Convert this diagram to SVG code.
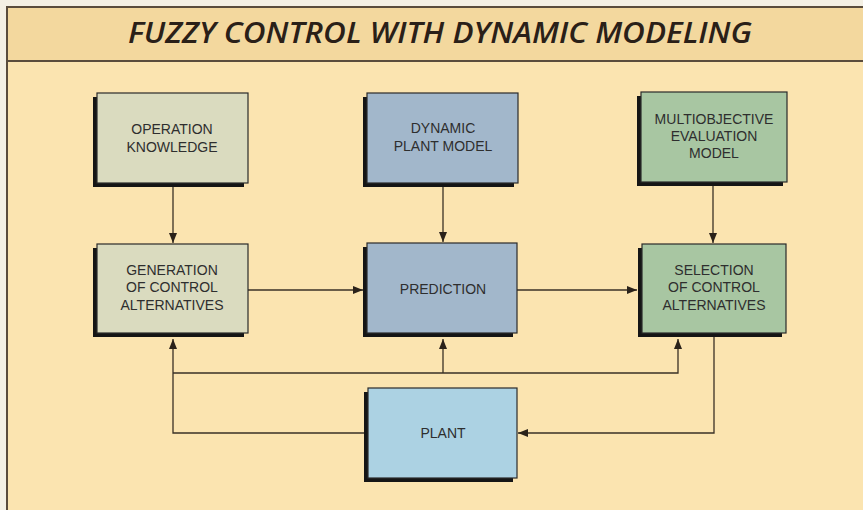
<svg xmlns="http://www.w3.org/2000/svg" width="863" height="510" viewBox="0 0 863 510">
<defs>
<style>
.box{stroke:#2a2a2a;stroke-width:1.2}
.sh{fill:#151515}
.t{font-family:"Liberation Sans",Arial,sans-serif;font-size:14px;fill:#2e2e2e;text-anchor:middle}
.c{fill:none;stroke:#3a3026;stroke-width:1.3}
.frame{stroke:#5a4c3c;stroke-width:2;fill:none}
</style>
<marker id="ah" viewBox="0 0 10 8" refX="10" refY="4" markerWidth="10" markerHeight="8" markerUnits="userSpaceOnUse" orient="auto">
<path d="M0,0 L10,4 L0,8 z" fill="#2a221a"/>
</marker>
</defs>
<rect x="0" y="0" width="863" height="510" fill="#f4f0e4"/>
<rect x="7" y="7" width="856" height="503" fill="#fbe4b0"/>
<rect x="7" y="7" width="856" height="54" fill="#f3d89e"/>
<path class="frame" d="M863,7 H7 V510 M7,61 H863"/>
<text x="440" y="43" font-family="'Open Sans','Liberation Sans',sans-serif" font-size="28" font-weight="600" font-style="italic" fill="#2a2018" text-anchor="middle" textLength="624" lengthAdjust="spacingAndGlyphs">FUZZY CONTROL WITH DYNAMIC MODELING</text>

<g id="connectors">
<path class="c" d="M173,184 V243" marker-end="url(#ah)"/>
<path class="c" d="M443,184 V242" marker-end="url(#ah)"/>
<path class="c" d="M713,183 V243" marker-end="url(#ah)"/>
<path class="c" d="M248,290 H363" marker-end="url(#ah)"/>
<path class="c" d="M517,290 H637" marker-end="url(#ah)"/>
<path class="c" d="M364,433 H173 V339" marker-end="url(#ah)"/>
<path class="c" d="M173,373 H678 V339" marker-end="url(#ah)"/>
<path class="c" d="M443,373 V339" marker-end="url(#ah)"/>
<path class="c" d="M714,334 V433 H518" marker-end="url(#ah)"/>
</g>

<g id="operation-knowledge">
<rect class="sh" x="93" y="97" width="151" height="90"/>
<rect class="box" x="97" y="93" width="151" height="90" fill="#dadbbf"/>
<text class="t" x="172" y="134">OPERATION</text>
<text class="t" x="172" y="152">KNOWLEDGE</text>
</g>
<g id="dynamic-plant-model">
<rect class="sh" x="363" y="97" width="151" height="90"/>
<rect class="box" x="367" y="93" width="151" height="90" fill="#a2b7cb"/>
<text class="t" x="443" y="133">DYNAMIC</text>
<text class="t" x="443" y="151">PLANT MODEL</text>
</g>
<g id="multiobjective-evaluation-model">
<rect class="sh" x="637" y="96" width="146" height="90"/>
<rect class="box" x="641" y="92" width="146" height="90" fill="#a8c6a2"/>
<text class="t" x="714" y="124">MULTIOBJECTIVE</text>
<text class="t" x="714" y="141">EVALUATION</text>
<text class="t" x="714" y="158">MODEL</text>
</g>
<g id="generation">
<rect class="sh" x="93" y="248" width="151" height="89"/>
<rect class="box" x="97" y="244" width="151" height="89" fill="#dadbbf"/>
<text class="t" x="172" y="275">GENERATION</text>
<text class="t" x="172" y="292">OF CONTROL</text>
<text class="t" x="172" y="310">ALTERNATIVES</text>
</g>
<g id="prediction">
<rect class="sh" x="363" y="247" width="150" height="90"/>
<rect class="box" x="367" y="243" width="150" height="90" fill="#a2b7cb"/>
<text class="t" x="443" y="294">PREDICTION</text>
</g>
<g id="selection">
<rect class="sh" x="638" y="248" width="144" height="89"/>
<rect class="box" x="642" y="244" width="144" height="89" fill="#a8c6a2"/>
<text class="t" x="714" y="275">SELECTION</text>
<text class="t" x="714" y="292">OF CONTROL</text>
<text class="t" x="714" y="310">ALTERNATIVES</text>
</g>
<g id="plant">
<rect class="sh" x="364" y="392" width="149" height="90"/>
<rect class="box" x="368" y="388" width="149" height="90" fill="#acd2e3"/>
<text class="t" x="443" y="438">PLANT</text>
</g>
</svg>
